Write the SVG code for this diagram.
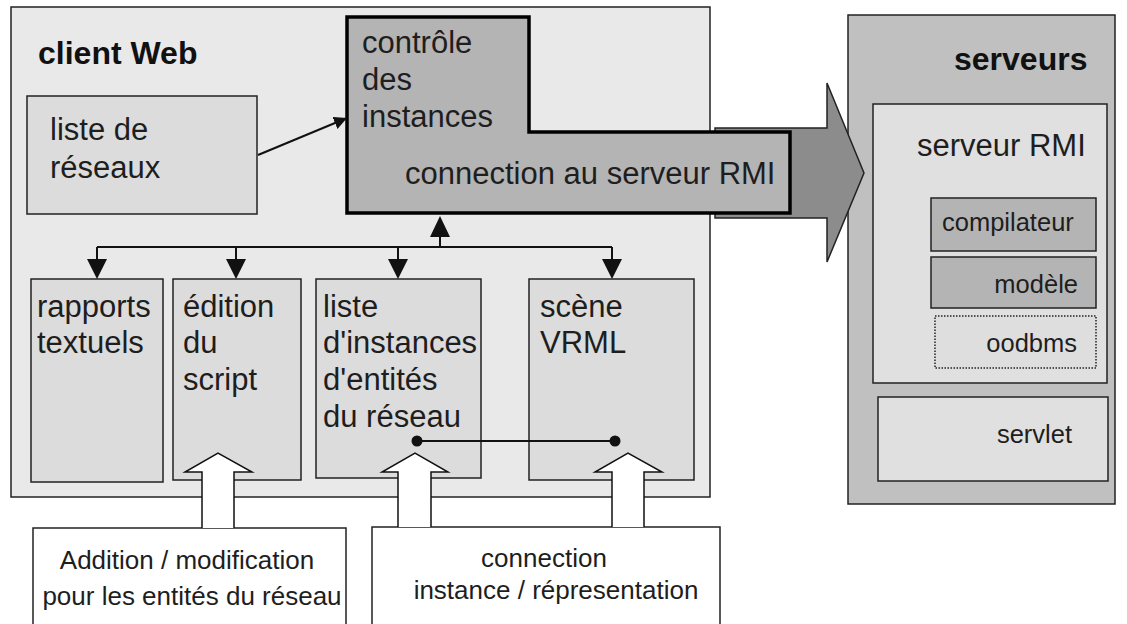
<svg xmlns="http://www.w3.org/2000/svg" width="1127" height="624" viewBox="0 0 1127 624">
<defs>
<style>
text{font-family:"Liberation Sans",Arial,sans-serif;fill:#1e1e1e}
.big{font-size:31px}
.mid{font-size:25.5px}
.low{font-size:26px}
.bold{font-size:32px;font-weight:bold;fill:#111}
.box{stroke:#222;stroke-width:1.5}
.lite{fill:#dcdcdc}
.wire{stroke:#111;stroke-width:2;fill:none}
.blk{fill:#111}
.barrow{fill:#fff;stroke:#111;stroke-width:1.5}
</style>
<marker id="ah" viewBox="0 0 10 10" refX="10" refY="5" markerWidth="13" markerHeight="13" markerUnits="userSpaceOnUse" orient="auto">
<path d="M0,0 L10,5 L0,10 z" fill="#111"/>
</marker>
</defs>
<rect width="1127" height="624" fill="#fff"/>

<g id="client">
<rect x="11" y="7" width="699" height="490" fill="#e9e9e9" class="box"/>
<text class="bold" x="38" y="64">client Web</text>
</g>

<g id="serveurs">
<rect x="848" y="15" width="267" height="489" fill="#c0c0c0" class="box"/>
<text class="bold" x="954" y="70">serveurs</text>
</g>

<g id="bigarrow">
<path d="M715,128 L827,128 L827,83 L864,173 L827,262 L827,218 L715,218 Z" fill="#8c8c8c" stroke="#222" stroke-width="1.5"/>
</g>

<g id="controle">
<path d="M347,17 L529,17 L529,132 L790,132 L790,213 L347,213 Z" fill="#b4b4b4" stroke="#000" stroke-width="3.5"/>
<text class="big" x="362" y="53">contrôle</text>
<text class="big" x="362" y="90">des</text>
<text class="big" x="362" y="127">instances</text>
<text class="big" x="405" y="184">connection au serveur RMI</text>
</g>

<g id="listereseaux">
<rect x="27" y="96" width="230" height="118" class="box lite"/>
<text class="big" x="50" y="140">liste de</text>
<text class="big" x="50" y="178">réseaux</text>
</g>

<g id="rapports">
<rect x="31" y="279" width="132" height="203" class="box lite"/>
<text class="big" x="37" y="317">rapports</text>
<text class="big" x="37" y="353">textuels</text>
</g>

<g id="edition">
<rect x="173" y="279" width="128" height="201" class="box lite"/>
<text class="big" x="183" y="317">édition</text>
<text class="big" x="183" y="353">du</text>
<text class="big" x="183" y="390">script</text>
</g>

<g id="listeinstances">
<rect x="316" y="279" width="165" height="199" class="box lite"/>
<text class="big" x="323" y="317">liste</text>
<text class="big" x="323" y="353">d'instances</text>
<text class="big" x="323" y="390">d'entités</text>
<text class="big" x="323" y="427">du réseau</text>
</g>

<g id="scene">
<rect x="529" y="279" width="165" height="201" class="box lite"/>
<text class="big" x="540" y="317">scène</text>
<text class="big" x="540" y="353">VRML</text>
</g>

<g id="serveurrmi">
<rect x="873" y="104" width="234" height="279" fill="#e0e0e0" class="box"/>
<text class="big" x="917" y="156">serveur RMI</text>
</g>

<g id="compilateur">
<rect x="931" y="198" width="165" height="53" fill="#b4b4b4" class="box"/>
<text class="mid" x="942" y="231">compilateur</text>
</g>

<g id="modele">
<rect x="931" y="257" width="165" height="51" fill="#b4b4b4" class="box"/>
<text class="mid" x="1078" y="293" text-anchor="end">modèle</text>
</g>

<g id="oodbms">
<rect x="935" y="316" width="161" height="52" fill="#dedede" stroke="#222" stroke-width="1.5" stroke-dasharray="1.5,1.5"/>
<text class="mid" x="1077" y="352" text-anchor="end">oodbms</text>
</g>

<g id="servlet">
<rect x="878" y="397" width="230" height="84" fill="#e0e0e0" class="box"/>
<text class="mid" x="1072" y="443" text-anchor="end">servlet</text>
</g>

<g id="addition">
<rect x="33" y="528" width="313" height="110" fill="#fff" class="box"/>
<text class="low" x="187" y="569" text-anchor="middle">Addition / modification</text>
<text class="low" x="192" y="605" text-anchor="middle">pour les entités du réseau</text>
</g>

<g id="connectionbox">
<rect x="372" y="527" width="348" height="110" fill="#fff" class="box"/>
<text class="low" x="544" y="567" text-anchor="middle">connection</text>
<text class="low" x="556" y="599" text-anchor="middle">instance / répresentation</text>
</g>

<g id="connectors">
<line x1="258" y1="155" x2="347" y2="118" class="wire" marker-end="url(#ah)"/>
<path d="M97,247 H612" class="wire"/>
<path d="M97,247 V262" class="wire"/>
<path d="M236,247 V262" class="wire"/>
<path d="M398,247 V262" class="wire"/>
<path d="M612,247 V262" class="wire"/>
<path d="M87,259 L107,259 L97,279 Z" class="blk"/>
<path d="M226,259 L246,259 L236,279 Z" class="blk"/>
<path d="M388,259 L408,259 L398,279 Z" class="blk"/>
<path d="M602,259 L622,259 L612,279 Z" class="blk"/>
<path d="M440,247 V232" class="wire"/>
<path d="M430,237 L450,237 L440,216 Z" class="blk"/>
<line x1="417" y1="441" x2="615" y2="441" class="wire"/>
<circle cx="417" cy="441" r="5.5" class="blk"/>
<circle cx="615" cy="441" r="5.5" class="blk"/>
<path d="M202,528 V472 H185 L218,453 L252,472 H234 V528" class="barrow"/>
<path d="M398,527 V472 H382 L415,453 L448,472 H431 V527" class="barrow"/>
<path d="M612,527 V472 H595 L628,453 L662,472 H644 V527" class="barrow"/>
</g>
</svg>
